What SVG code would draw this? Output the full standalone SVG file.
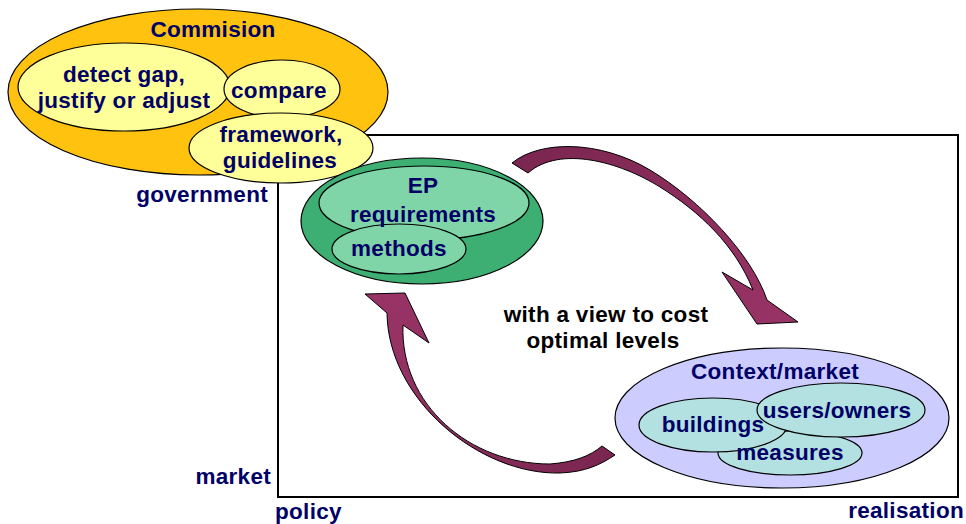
<svg xmlns="http://www.w3.org/2000/svg" width="966" height="524" viewBox="0 0 966 524">
<defs>
<style>
text{font-family:"Liberation Sans",Arial,sans-serif;font-weight:bold;font-size:22.5px;text-anchor:middle;letter-spacing:0.3px}
.nv{fill:#000066}
.bk{fill:#000000}
.st{stroke:#000;stroke-width:1.2}
.org{fill:#FFC20E}
.yel{fill:#FFFF99}
.grn{fill:#3DAF72}
.lgr{fill:#80D5A8}
.lav{fill:#CCCCFF}
.tea{fill:#B3E0E0}
.arr{stroke:#000;stroke-width:1}
</style>
<linearGradient id="g1" gradientUnits="userSpaceOnUse" x1="512" y1="165" x2="780" y2="320">
<stop offset="0" stop-color="#7A2650"/><stop offset="1" stop-color="#993366"/>
</linearGradient>
<linearGradient id="g2" gradientUnits="userSpaceOnUse" x1="615" y1="455" x2="390" y2="300">
<stop offset="0" stop-color="#7A2650"/><stop offset="1" stop-color="#993366"/>
</linearGradient>
</defs>
<rect x="0" y="0" width="966" height="524" fill="#FFFFFF"/>
<g id="frame">
<rect x="278" y="135" width="680" height="362" fill="none" stroke="#000" stroke-width="2"/>
</g>
<g id="commission">
<ellipse class="org st" cx="198" cy="92" rx="190" ry="83"/>
<ellipse class="yel st" cx="124" cy="87" rx="106" ry="44"/>
<ellipse class="yel st" cx="282" cy="89" rx="58" ry="29"/>
<ellipse class="yel st" cx="281" cy="148" rx="92" ry="35"/>
<text class="nv" x="213" y="37">Commision</text>
<text class="nv" x="124" y="82">detect gap,</text>
<text class="nv" x="124" y="108">justify or adjust</text>
<text class="nv" x="279" y="98">compare</text>
<text class="nv" x="281" y="142">framework,</text>
<text class="nv" x="280" y="168">guidelines</text>
</g>
<g id="ep">
<ellipse class="grn st" cx="422" cy="221" rx="121" ry="63"/>
<ellipse class="lgr st" cx="424" cy="203" rx="105" ry="37"/>
<ellipse class="lgr st" cx="399" cy="249" rx="67" ry="25"/>
<text class="nv" x="423" y="193">EP</text>
<text class="nv" x="423" y="222">requirements</text>
<text class="nv" x="399" y="256">methods</text>
</g>
<g id="context">
<ellipse class="lav st" cx="782" cy="418" rx="167" ry="70"/>
<ellipse class="tea st" cx="790" cy="453" rx="72" ry="22"/>
<ellipse class="tea st" cx="713" cy="425" rx="74" ry="27"/>
<ellipse class="tea st" cx="841" cy="410" rx="84" ry="27"/>
<text class="nv" x="775" y="379">Context/market</text>
<text class="nv" x="713" y="432">buildings</text>
<text class="nv" x="837" y="418">users/owners</text>
<text class="nv" x="790" y="460">measures</text>
</g>
<g id="connectors">
<path class="arr" fill="url(#g1)" d="M512,163 C540,140 600,140 650,170 C700,200 752,255 767,300 L798,322 L757,324 L722,272 L753,290 C735,245 700,212 660,187 C620,162 560,145 528,173 Z"/>
<path class="arr" fill="url(#g2)" d="M615,455 C600,465 585,472 560,473 C480,475 388,400 387,313 L365,294 L405,293 L429,343 L403,325 C400,405 470,464 550,464 C575,462 590,456 602,446 Z"/>
</g>
<g id="labels">
<text class="bk" x="606" y="322">with a view to cost</text>
<text class="bk" x="603" y="348">optimal levels</text>
<text class="nv" x="268" y="202" style="text-anchor:end">government</text>
<text class="nv" x="271" y="484" style="text-anchor:end">market</text>
<text class="nv" x="275" y="519" style="text-anchor:start">policy</text>
<text class="nv" x="964" y="518" style="text-anchor:end">realisation</text>
</g>
</svg>
